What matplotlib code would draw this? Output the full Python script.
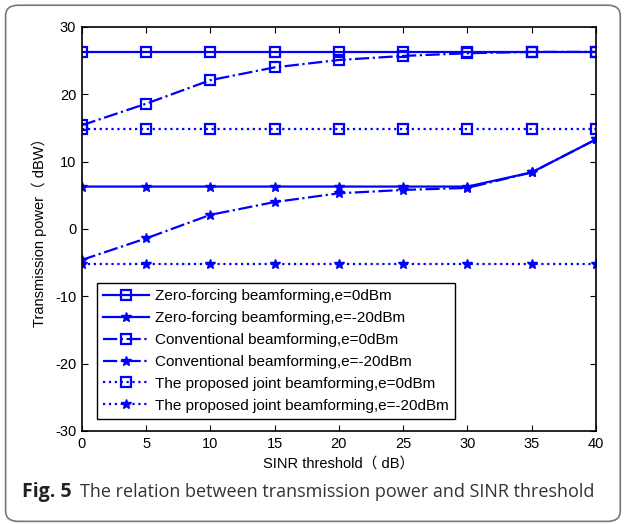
import matplotlib
matplotlib.use("Agg")
import matplotlib.pyplot as plt
from matplotlib.patches import FancyBboxPatch

# SINR threshold (dB)
sinr = [0, 5, 10, 15, 20, 25, 30, 35, 40]

# transmission power (dBW)
zf_0 = [26.3, 26.3, 26.3, 26.3, 26.3, 26.3, 26.3, 26.3, 26.3]
zf_20 = [6.3, 6.3, 6.3, 6.3, 6.3, 6.3, 6.3, 8.4, 13.3]
conv_0 = [15.4, 18.6, 22.1, 24.0, 25.1, 25.7, 26.1, 26.3, 26.3]
conv_20 = [-4.6, -1.4, 2.1, 4.0, 5.3, 5.8, 6.1, 8.4, 13.3]
prop_0 = [14.9, 14.9, 14.9, 14.9, 14.9, 14.9, 14.9, 14.9, 14.9]
prop_20 = [-5.2, -5.2, -5.2, -5.2, -5.2, -5.2, -5.2, -5.2, -5.2]

labels = [
    "Zero-forcing beamforming,e=0dBm",
    "Zero-forcing beamforming,e=-20dBm",
    "Conventional beamforming,e=0dBm",
    "Conventional beamforming,e=-20dBm",
    "The proposed joint beamforming,e=0dBm",
    "The proposed joint beamforming,e=-20dBm",
]

plt.rcParams['font.family'] = ['Liberation Sans', 'Noto Sans CJK SC', 'DejaVu Sans']
plt.rcParams['axes.unicode_minus'] = False

fig = plt.figure(figsize=(6.24, 5.24), dpi=100)
ax = fig.add_axes([0.131, 0.1775, 0.824, 0.771])

blue = '#0000ff'
sq = dict(marker='s', markersize=7.5, markerfacecolor='none', markeredgewidth=1.6)
st = dict(marker='*', markersize=7.5, markerfacecolor=blue, markeredgewidth=1)

ax.plot(sinr, zf_0, '-', color=blue, lw=1.6, label=labels[0], **sq)
ax.plot(sinr, zf_20, '-', color=blue, lw=1.6, label=labels[1], **st)
ax.plot(sinr, conv_0, '-.', color=blue, lw=1.6, label=labels[2], **sq)
ax.plot(sinr, conv_20, '-.', color=blue, lw=1.6, label=labels[3], **st)
ax.plot(sinr, prop_0, ':', color=blue, lw=1.6, label=labels[4], **sq)
ax.plot(sinr, prop_20, ':', color=blue, lw=1.6, label=labels[5], **st)

ax.set_xlim(0, 40)
ax.set_ylim(-30, 30)
ax.set_xticks(sinr)
ax.set_yticks([-30, -20, -10, 0, 10, 20, 30])
ax.tick_params(direction='in', top=True, right=True, labelsize=10.5, length=4, pad=4)
for s in ax.spines.values():
    s.set_linewidth(1.2)

ax.set_xlabel("SINR threshold（ dB）", fontsize=10.5, labelpad=4)
ax.set_ylabel("Transmission power（ dBW）", fontsize=10.5, labelpad=6)

leg = ax.legend(loc='lower left', bbox_to_anchor=(0.029, 0.03), fontsize=11,
                fancybox=False, framealpha=1, edgecolor='black',
                borderpad=0.4, labelspacing=0.52, handlelength=3.0,
                handletextpad=0.45, borderaxespad=0)
leg.get_frame().set_linewidth(1.0)

# caption and rounded border
fig.text(0.035, 0.051, "Fig. 5", fontsize=14, fontweight='bold',
         family=['Open Sans', 'DejaVu Sans'], color='#222222')
fig.text(0.128, 0.051, "The relation between transmission power and SINR threshold",
         fontsize=13, family=['Open Sans', 'DejaVu Sans'], color='#333333')

box = FancyBboxPatch((0.009, 0.005), 0.985, 0.985, boxstyle="round,pad=0,rounding_size=0.02",
                     transform=fig.transFigure, fill=False, edgecolor='#777777', lw=1.2)
fig.patches.append(box)

fig.savefig("out.png", dpi=100)
